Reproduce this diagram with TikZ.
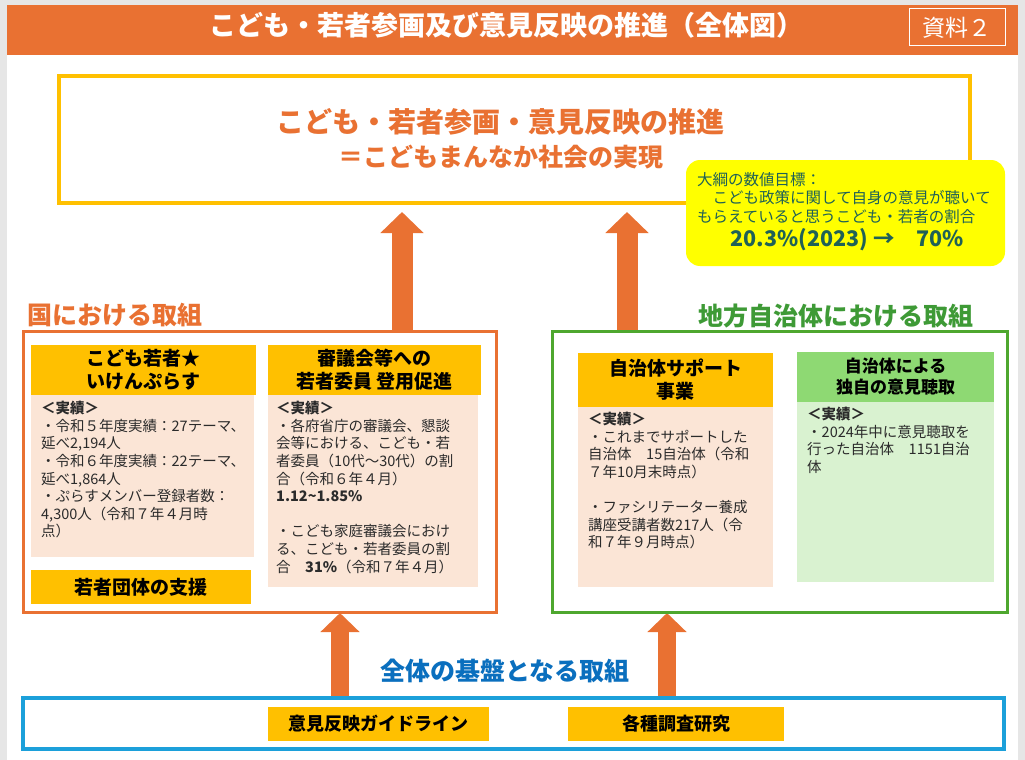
\documentclass[tikz,border=0pt]{standalone}
\usepackage{fontspec}
\setmainfont{Noto Sans CJK JP}
\usetikzlibrary{arrows.meta,calc}
\definecolor{orng}{HTML}{E97132}
\definecolor{gold}{HTML}{FFC000}
\definecolor{pinkbg}{HTML}{FBE5D6}
\definecolor{grn}{HTML}{4EA72E}
\definecolor{grnlabel}{HTML}{3E9A36}
\definecolor{grnhead}{HTML}{8ED973}
\definecolor{grnbg}{HTML}{D9F2D0}
\definecolor{bluefr}{HTML}{1CA0DA}
\definecolor{bluetx}{HTML}{0A6FBE}
\definecolor{tealtx}{HTML}{1F6157}
\definecolor{bodytx}{HTML}{2B2B2B}
\definecolor{bggray}{HTML}{E6E6E6}
\definecolor{callout}{HTML}{FFFF00}
\begin{document}
\begin{tikzpicture}[x=1pt,y=-1pt,
  rect/.style={anchor=north west, inner sep=0pt, outer sep=0pt},
  headbox/.style={rect, fill=gold, align=center, text=black, font=\bfseries\fontsize{19}{23}\selectfont},
  bodybox/.style={rect, fill=pinkbg},
  bodytext/.style={anchor=north west, inner sep=0pt, align=left, text=bodytx, font=\fontsize{14.5}{17.6}\selectfont},
  sectionlabel/.style={inner sep=0pt, font=\bfseries\fontsize{25}{29}\selectfont},
  bigarrow/.style={draw=orng, line width=21pt, -{Triangle[width=42pt,length=21pt]}},
  smallarrow/.style={draw=orng, line width=18pt, -{Triangle[width=38pt,length=19pt]}}
]
\useasboundingbox (0,0) rectangle (1025,760);
\fill[bggray] (0,0) rectangle (1025,760);
\fill[white] (7,5) rectangle (1018,760);

% header
\node[rect, fill=orng, minimum width=1011pt, minimum height=50pt] (header) at (7,5) {};
\node[text=white, inner sep=0pt, font=\bfseries\fontsize{27}{31}\selectfont] (title) at (506,25) {こども・若者参画及び意見反映の推進（全体図）};
\node[rect, draw=white, line width=1pt, minimum width=96pt, minimum height=37pt, text=white, font=\fontsize{23}{27}\selectfont] (shiryo) at (909,9) {資料２};

% arrows (drawn first so boxes overlap their ends)
\coordinate (a1s) at (402,331);
\coordinate (a1e) at (402,212);
\coordinate (a2s) at (627,331);
\coordinate (a2e) at (627,212);
\coordinate (a3s) at (340,698);
\coordinate (a3e) at (340,613);
\coordinate (a4s) at (667,698);
\coordinate (a4e) at (667,613);
\draw[bigarrow] (a1s) -- (a1e);
\draw[bigarrow] (a2s) -- (a2e);
\draw[smallarrow] (a3s) -- (a3e);
\draw[smallarrow] (a4s) -- (a4e);

% goal frame
\node[rect, draw=gold, line width=4pt, minimum width=911pt, minimum height=127pt] (goal) at (59,76) {};
\node[text=orng, inner sep=0pt, font=\bfseries\fontsize{28}{32}\selectfont] (goal1) at (500,122) {こども・若者参画・意見反映の推進};
\node[text=orng, inner sep=0pt, font=\bfseries\fontsize{25}{29}\selectfont] (goal2) at (501,157) {＝こどもまんなか社会の実現};

% callout
\node[rect, fill=callout, rounded corners=14pt, minimum width=319pt, minimum height=106pt] (target) at (686,160) {};
\node[anchor=north west, inner sep=0pt, align=left, text=tealtx, font=\fontsize{15.5}{18.5}\selectfont] (targettext) at (697,172) {大綱の数値目標：\\　こども政策に関して自身の意見が聴いて\\もらえていると思うこども・若者の割合};
\node[inner sep=0pt, text=tealtx, font=\bfseries\fontsize{21.5}{24}\selectfont] (targetnum) at (847,240) {20.3\%(2023) →\quad 70\%};

% national frame
\node[rect, draw=orng, line width=3pt, minimum width=473pt, minimum height=281pt] (nat) at (23,331) {};
\node[sectionlabel, text=orng, anchor=west] (natlabel) at (27,315) {国における取組};

\node[headbox, minimum width=225pt, minimum height=50pt] (h1) at (31,345) {こども若者★\\いけんぷらす};
\node[bodybox, minimum width=223pt, minimum height=162pt] (b1) at (31,395) {};
\node[bodytext] (t1) at (41,401) {\textbf{＜実績＞}\\・令和５年度実績：27テーマ、\\延べ2,194人\\・令和６年度実績：22テーマ、\\延べ1,864人\\・ぷらすメンバー登録者数：\\4,300人（令和７年４月時\\点）};
\node[headbox, minimum width=220pt, minimum height=34pt] (h1b) at (31,570) {若者団体の支援};

\node[headbox, minimum width=213pt, minimum height=50pt] (h2) at (268,345) {審議会等への\\若者委員 登用促進};
\node[bodybox, minimum width=210pt, minimum height=192pt] (b2) at (268,395) {};
\node[bodytext] (t2) at (276,401) {\textbf{＜実績＞}\\・各府省庁の審議会、懇談\\会等における、こども・若\\者委員（10代～30代）の割\\合（令和６年４月）\\\textbf{1.12\textasciitilde 1.85\%}\\[17.6pt]・こども家庭審議会におけ\\る、こども・若者委員の割\\合　\textbf{31\%}（令和７年４月）};

% local frame
\node[rect, draw=grn, line width=3pt, minimum width=455pt, minimum height=281pt] (loc) at (552,331) {};
\node[sectionlabel, text=grnlabel] (loclabel) at (836,316) {地方自治体における取組};

\node[headbox, minimum width=195pt, minimum height=54pt] (h3) at (578,353) {自治体サポート\\事業};
\node[bodybox, minimum width=195pt, minimum height=180pt] (b3) at (578,407) {};
\node[bodytext] (t3) at (588,412) {\textbf{＜実績＞}\\・これまでサポートした\\自治体　15自治体（令和\\７年10月末時点）\\[17.6pt]・ファシリテーター養成\\講座受講者数217人（令\\和７年９月時点）};

\node[headbox, fill=grnhead, minimum width=197pt, minimum height=50pt, font=\bfseries\fontsize{17}{21}\selectfont] (h4) at (797,352) {自治体による\\独自の意見聴取};
\node[bodybox, fill=grnbg, minimum width=197pt, minimum height=180pt] (b4) at (797,402) {};
\node[bodytext] (t4) at (807,407) {\textbf{＜実績＞}\\・2024年中に意見聴取を\\行った自治体　1151自治\\体};

% base
\node[sectionlabel, text=bluetx] (baselabel) at (505,671) {全体の基盤となる取組};
\node[rect, draw=bluefr, line width=4pt, minimum width=981pt, minimum height=51pt] (base) at (23,698) {};
\node[headbox, minimum width=221pt, minimum height=34pt, font=\bfseries\fontsize{18}{22}\selectfont] (g1) at (268,707) {意見反映ガイドライン};
\node[headbox, minimum width=216pt, minimum height=34pt, font=\bfseries\fontsize{18}{22}\selectfont] (g2) at (568,707) {各種調査研究};
\end{tikzpicture}
\end{document}
